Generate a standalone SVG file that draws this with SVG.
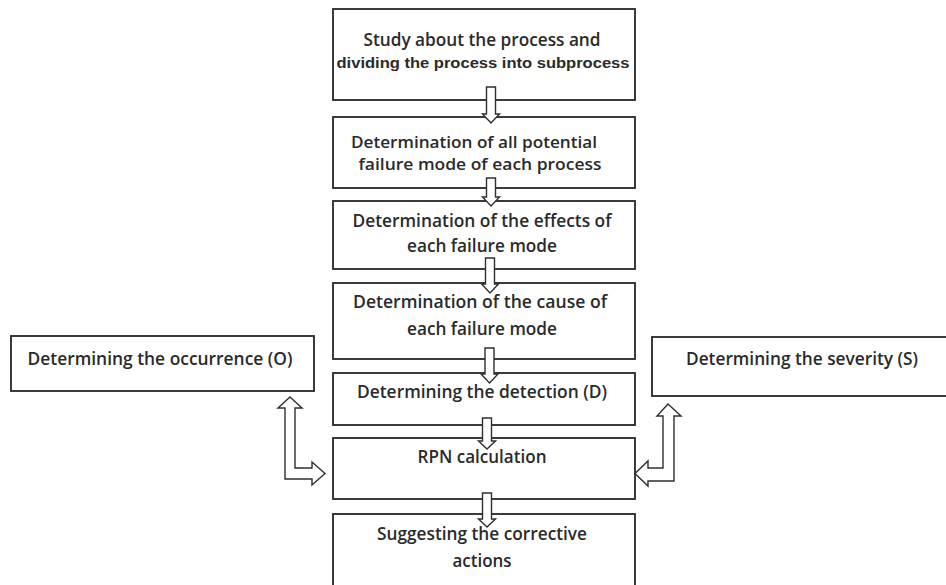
<svg xmlns="http://www.w3.org/2000/svg" width="946" height="585" viewBox="0 0 946 585">
<style>
.box{fill:#fff;stroke:#262626;stroke-width:1.8}
.t{font-family:"Open Sans","Noto Sans",sans-serif;font-size:18px;font-weight:600;fill:#2a2a2a;text-anchor:middle}
.s{font-size:16px}
.t2{font-family:"Liberation Sans",Arial,sans-serif;font-size:14px;font-weight:bold;fill:#2a2a2a;text-anchor:middle}
.arr{fill:#fff;stroke:#2f2f2f;stroke-width:1.4;stroke-linejoin:miter}
</style>
<rect width="946" height="585" fill="#fff"/>
<g id="n1"><rect class="box" x="333" y="9" width="302" height="91"/>
<text class="t" x="482" y="46" textLength="237" lengthAdjust="spacingAndGlyphs">Study about the process and</text>
<text class="t2" x="483" y="68" textLength="293" lengthAdjust="spacingAndGlyphs">dividing the process into subprocess</text></g>
<g id="n2"><rect class="box" x="333" y="117" width="302" height="71"/>
<text class="t s" x="474" y="148" textLength="246" lengthAdjust="spacingAndGlyphs">Determination of all potential</text>
<text class="t s" x="480" y="170" textLength="243" lengthAdjust="spacingAndGlyphs">failure mode of each process</text></g>
<g id="n3"><rect class="box" x="333" y="201" width="302" height="68"/>
<text class="t" x="482" y="227" textLength="259" lengthAdjust="spacingAndGlyphs">Determination of the effects of</text>
<text class="t" x="482" y="252" textLength="150" lengthAdjust="spacingAndGlyphs">each failure mode</text></g>
<g id="n4"><rect class="box" x="333" y="283" width="302" height="76"/>
<text class="t" x="480" y="308" textLength="254" lengthAdjust="spacingAndGlyphs">Determination of the cause of</text>
<text class="t" x="482" y="335" textLength="150" lengthAdjust="spacingAndGlyphs">each failure mode</text></g>
<g id="n5"><rect class="box" x="333" y="373" width="302" height="52"/>
<text class="t" x="482" y="398" textLength="250" lengthAdjust="spacingAndGlyphs">Determining the detection (D)</text></g>
<g id="n6"><rect class="box" x="333" y="438" width="302" height="61"/>
<text class="t" x="482" y="463" textLength="129" lengthAdjust="spacingAndGlyphs">RPN calculation</text></g>
<g id="n7"><rect class="box" x="333" y="514" width="302" height="90"/>
<text class="t" x="482" y="540" textLength="210" lengthAdjust="spacingAndGlyphs">Suggesting the corrective</text>
<text class="t" x="482" y="567" textLength="59" lengthAdjust="spacingAndGlyphs">actions</text></g>
<g id="nO"><rect class="box" x="11" y="336" width="303" height="55"/>
<text class="t" x="160" y="365" textLength="265" lengthAdjust="spacingAndGlyphs">Determining the occurrence (O)</text></g>
<g id="nS"><rect class="box" x="652" y="337" width="300" height="59"/>
<text class="t" x="802" y="365" textLength="232" lengthAdjust="spacingAndGlyphs">Determining the severity (S)</text></g>
<g id="connectors">
<polygon class="arr" points="486.5,87 495.5,87 495.5,114 499.5,114 491,123 482.5,114 486.5,114"/>
<polygon class="arr" points="486.5,178 495.5,178 495.5,197 499.5,197 491,206 482.5,197 486.5,197"/>
<polygon class="arr" points="485.5,258 494.5,258 494.5,284 498.5,284 490,293 481.5,284 485.5,284"/>
<polygon class="arr" points="485,348 494,348 494,374 498,374 489.5,383 481,374 485,374"/>
<polygon class="arr" points="482.5,418 491.5,418 491.5,441 495.5,441 487,449 478.5,441 482.5,441"/>
<polygon class="arr" points="482.5,493 491.5,493 491.5,519 495.5,519 487,527 478.5,519 482.5,519"/>
<polygon class="arr" points="290,397 302,408 295,408 295,468 312,468 312,462 325,473.5 312,485 312,479 285,479 285,408 278,408"/>
<polygon class="arr" points="668,404 681,416 674,416 674,481 648,481 648,486 635,473.5 648,461 648,468 663,468 663,416 657,416"/>
</g>
</svg>
